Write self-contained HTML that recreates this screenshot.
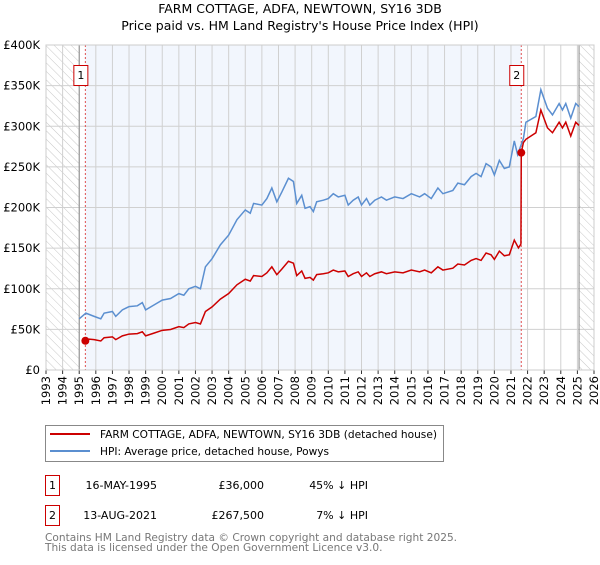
<!DOCTYPE html>
<html><head><meta charset="utf-8"><style>
body{margin:0;background:#fff;font-family:"Liberation Sans","DejaVu Sans",sans-serif;}
svg text{font-family:"DejaVu Sans","Liberation Sans",sans-serif;}
</style></head><body>
<svg id="c" width="600" height="560" xmlns="http://www.w3.org/2000/svg">
<defs><pattern id="h" width="6" height="6" patternUnits="userSpaceOnUse" patternTransform="rotate(-45)"><line x1="0" y1="0" x2="0" y2="6" stroke="#c8c8c8" stroke-width="1"/></pattern></defs>
<text x="300" y="13" text-anchor="middle" font-size="12.5">FARM COTTAGE, ADFA, NEWTOWN, SY16 3DB</text>
<text x="300" y="30" text-anchor="middle" font-size="12.5">Price paid vs. HM Land Registry's House Price Index (HPI)</text>
<g id="plot"></g>
<g>
<rect x="45.5" y="425.5" width="398" height="36" fill="#fff" stroke="#888"/>
<line x1="50" y1="434" x2="90" y2="434" stroke="#cc0000" stroke-width="2"/>
<text x="100" y="438" font-size="10.6">FARM COTTAGE, ADFA, NEWTOWN, SY16 3DB (detached house)</text>
<line x1="50" y1="451" x2="90" y2="451" stroke="#5b8fd0" stroke-width="2"/>
<text x="100" y="455" font-size="10.6">HPI: Average price, detached house, Powys</text>
</g>
<g font-size="11">
<rect x="45.5" y="475.5" width="14" height="20" fill="#fff" stroke="#cc0000"/><text x="52.5" y="489" text-anchor="middle">1</text>
<text x="157" y="489" text-anchor="end">16-MAY-1995</text><text x="264" y="489" text-anchor="end">£36,000</text><text x="368" y="489" text-anchor="end">45% ↓ HPI</text>
<rect x="45.5" y="505.5" width="14" height="20" fill="#fff" stroke="#cc0000"/><text x="52.5" y="519" text-anchor="middle">2</text>
<text x="157" y="519" text-anchor="end">13-AUG-2021</text><text x="264" y="519" text-anchor="end">£267,500</text><text x="368" y="519" text-anchor="end">7% ↓ HPI</text>
</g>
<text x="45" y="541" font-size="10.6" fill="#777">Contains HM Land Registry data © Crown copyright and database right 2025.</text>
<text x="45" y="551" font-size="10.6" fill="#777">This data is licensed under the Open Government Licence v3.0.</text>
</svg>
<script>
const hpiYears=[1995.0,1995.4,1995.9,1996.3,1996.5,1997.0,1997.2,1997.6,1998.0,1998.5,1998.8,1999.0,1999.5,2000.0,2000.5,2001.0,2001.3,2001.6,2002.0,2002.3,2002.6,2003.0,2003.5,2004.0,2004.5,2005.0,2005.3,2005.5,2006.0,2006.3,2006.6,2006.9,2007.2,2007.6,2007.9,2008.1,2008.4,2008.6,2008.9,2009.1,2009.3,2009.7,2010.0,2010.3,2010.6,2011.0,2011.2,2011.5,2011.8,2012.0,2012.3,2012.5,2012.8,2013.2,2013.5,2014.0,2014.5,2015.0,2015.5,2015.8,2016.2,2016.6,2016.9,2017.5,2017.8,2018.2,2018.6,2018.9,2019.2,2019.5,2019.8,2020.0,2020.3,2020.6,2020.9,2021.2,2021.4,2021.75,2021.9,2022.5,2022.8,2023.2,2023.5,2023.9,2024.1,2024.3,2024.6,2024.9,2025.1];
const hpiValues=[63,70,66,63,70,72,66,74,78,79,83,74,80,86,88,94,92,100,103,100,127,137,154,166,185,197,193,205,203,211,224,207,219,236,232,205,215,199,201,195,207,209,211,217,213,215,203,209,213,203,211,203,209,213,209,213,211,217,213,217,211,224,217,221,230,228,238,242,238,254,250,240,258,248,250,282,265,285,305,312,345,322,314,328,320,328,310,328,324];
const priceYears=[1995.37,1995.6,1995.9,1996.3,1996.5,1997.0,1997.2,1997.6,1998.0,1998.5,1998.8,1999.0,1999.5,2000.0,2000.5,2001.0,2001.3,2001.6,2002.0,2002.3,2002.6,2003.0,2003.5,2004.0,2004.5,2005.0,2005.3,2005.5,2006.0,2006.3,2006.6,2006.9,2007.2,2007.6,2007.9,2008.1,2008.4,2008.6,2008.9,2009.1,2009.3,2009.7,2010.0,2010.3,2010.6,2011.0,2011.2,2011.5,2011.8,2012.0,2012.3,2012.5,2012.8,2013.2,2013.5,2014.0,2014.5,2015.0,2015.5,2015.8,2016.2,2016.6,2016.9,2017.5,2017.8,2018.2,2018.6,2018.9,2019.2,2019.5,2019.8,2020.0,2020.3,2020.6,2020.9,2021.2,2021.45,2021.6,2021.62,2021.75,2021.9,2022.5,2022.8,2023.2,2023.5,2023.9,2024.1,2024.3,2024.6,2024.9,2025.1];
const priceValues=[36,38,37.4,35.7,39.7,40.8,37.4,42,44.2,44.8,47,42,45.4,48.8,49.9,53.3,52.2,56.7,58.4,56.7,72,77.7,87.3,94.1,104.9,111.7,109.4,116.2,115.1,119.6,127,117.4,124.2,133.8,131.5,116.2,121.9,112.8,114,110.6,117.4,118.5,119.6,123,120.8,121.9,115.1,118.5,120.8,115.1,119.6,115.1,118.5,120.8,118.5,120.8,119.6,123,120.8,123,119.6,127,123,125.3,130.4,129.3,134.9,137.2,134.9,144,141.8,136.1,146.3,140.6,141.8,159.9,150.3,155,267.5,280,284,292,320,298,292,305,298,305,288,305,301];
const saleYears=[1995.37,2021.62];
const saleValues=[36,267.5];
const saleLabels=["1","2"];
const yTicks=[0,50,100,150,200,250,300,350,400];
const yTickLabels=["£0","£50K","£100K","£150K","£200K","£250K","£300K","£350K","£400K"];
const xTicks=[1993,1994,1995,1996,1997,1998,1999,2000,2001,2002,2003,2004,2005,2006,2007,2008,2009,2010,2011,2012,2013,2014,2015,2016,2017,2018,2019,2020,2021,2022,2023,2024,2025,2026];

const L=46,R=594,T=45,B=370;
const x=y=>L+(y-1993)/(2026-1993)*(R-L);
const yv=v=>B-v/400*(B-T);
const NS="http://www.w3.org/2000/svg";
const g=document.getElementById('plot');
function mk(t,a){const e=document.createElementNS(NS,t);for(const k in a)e.setAttribute(k,a[k]);g.appendChild(e);return e;}
let e;
e=mk('rect',{x:x(saleYears[0]),y:T,width:x(saleYears[1])-x(saleYears[0]),height:B-T,fill:'#f2f6fd'});


e=mk('rect',{x:L,y:T,width:x(1995)-L,height:B-T,fill:'url(#h)'});


e=mk('rect',{x:x(2025.1),y:T,width:R-x(2025.1),height:B-T,fill:'url(#h)'});


xTicks.forEach(t=>{
 e=mk('line',{x1:x(t),x2:x(t),y1:T,y2:B,stroke:'#d0d0d0','stroke-width':1});
 
 
 e=mk('line',{x1:x(t),x2:x(t),y1:B,y2:B+4,stroke:'#333'});
 
 
 e=mk('text',{x:0,y:0,'font-size':11.5,'text-anchor':'end',transform:`translate(${x(t)+4},${B+6}) rotate(-90)`});
 e.textContent=t;
 
 
});
yTicks.forEach((t,i)=>{
 e=mk('line',{x1:L,x2:R,y1:yv(t),y2:yv(t),stroke:'#d0d0d0','stroke-width':1});
 
 
 e=mk('text',{x:L-6,y:yv(t)+4,'font-size':11.5,'text-anchor':'end'});
 e.textContent=yTickLabels[i];
 
 
});
[1995,2025.1].forEach(t=>{
 e=mk('line',{x1:x(t),x2:x(t),y1:T,y2:B,stroke:'#888'});
 
 
});
saleYears.forEach((s,i)=>{
 e=mk('line',{x1:x(s),x2:x(s),y1:T,y2:B,stroke:'#e05050','stroke-dasharray':'2,2'});
 
 
});
e=mk('polyline',{points:hpiYears.map((t,i)=>x(t)+','+yv(hpiValues[i])).join(' '),fill:'none',stroke:'#5b8fd0','stroke-width':1.5});


e=mk('polyline',{points:priceYears.map((t,i)=>x(t)+','+yv(priceValues[i])).join(' '),fill:'none',stroke:'#cc0000','stroke-width':1.5});


saleYears.forEach((s,i)=>{
 e=mk('circle',{cx:x(s),cy:yv(saleValues[i]),r:4,fill:'#cc0000'});
 
 
 e=mk('rect',{x:x(s)-11.5,y:65.5,width:14,height:20,fill:'#fff',stroke:'#cc0000'});
 
 
 e=mk('text',{x:x(s)-4.5,y:79,'font-size':11,'text-anchor':'middle'});
 e.textContent=saleLabels[i];
 
 
});
e=mk('rect',{x:L,y:T,width:R-L,height:B-T,fill:'none',stroke:'#ccc'});


</script>
</body></html>
